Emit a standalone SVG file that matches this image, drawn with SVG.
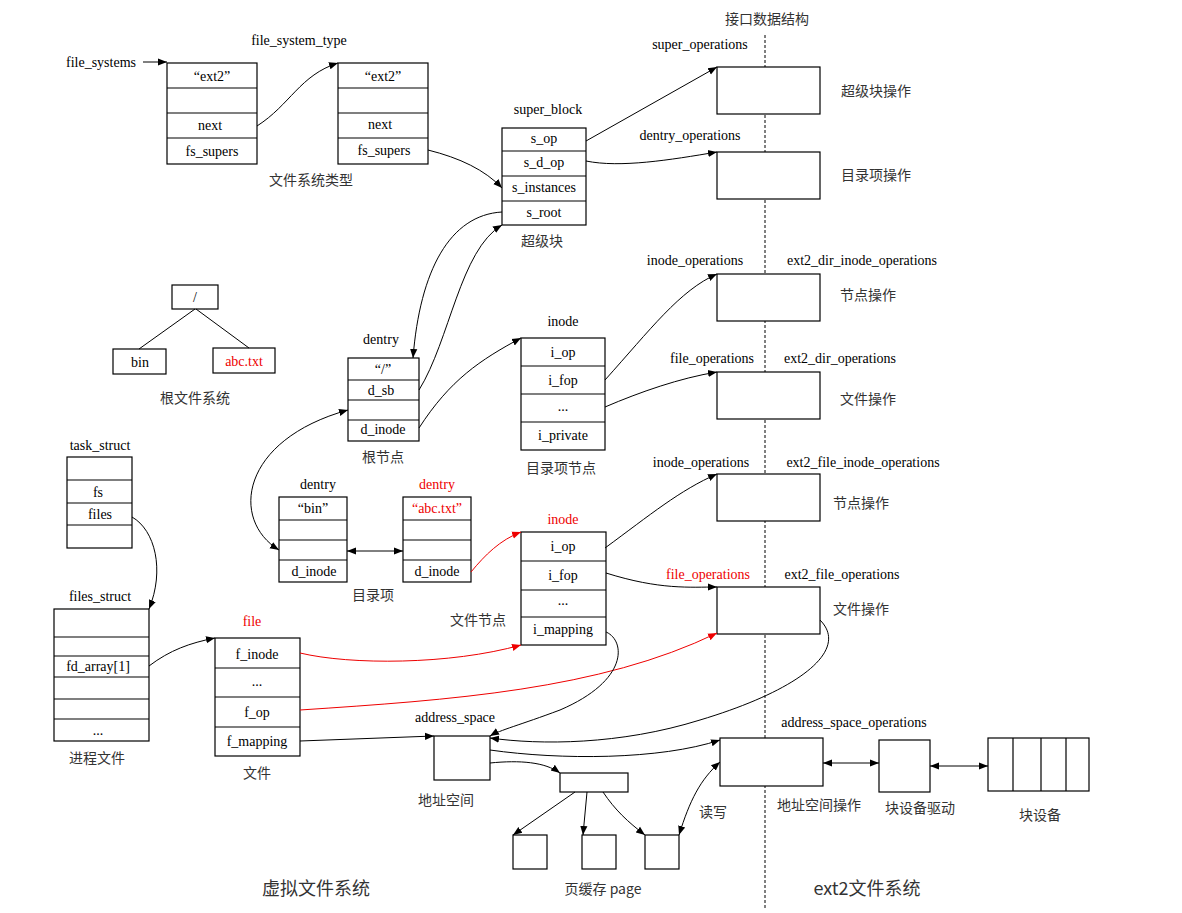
<svg xmlns="http://www.w3.org/2000/svg" width="1182" height="913" viewBox="0 0 1182 913">
<style>
text{font-family:"Liberation Serif","Noto Sans CJK SC",serif;font-size:14px;fill:#000;text-anchor:middle}
.z{font-family:"Noto Sans CJK SC","Liberation Serif",sans-serif;font-size:14px;fill:#333}
.big{font-size:18px}
.r{fill:#e00}
rect{fill:#fff;stroke:#000;stroke-width:1.2}
.row{stroke:#000;stroke-width:1.2}
.c path,.c line{fill:none;stroke:#000;stroke-width:1}
.c .red{stroke:#e00}
</style>
<defs>
<marker id="a" viewBox="0 0 10 10" refX="10" refY="5" markerWidth="9" markerHeight="9" orient="auto-start-reverse" markerUnits="userSpaceOnUse"><path d="M0,1 L10,5 L0,9z" fill="#000"/></marker>
<marker id="ar" viewBox="0 0 10 10" refX="10" refY="5" markerWidth="9" markerHeight="9" orient="auto" markerUnits="userSpaceOnUse"><path d="M0,1 L10,5 L0,9z" fill="#e00"/></marker>
</defs>
<rect x="0" y="0" width="1182" height="913" style="stroke:none"/>
<line x1="765" y1="35" x2="765" y2="908" stroke="#000" stroke-dasharray="3,2"/>
<text x="767" y="24" class="z">接口数据结构</text>
<text x="316" y="895" class="z big">虚拟文件系统</text>
<text x="867" y="895" class="z big">ext2文件系统</text>

<g id="fst1"><rect x="167" y="63" width="90" height="101"/><path class="row" d="M167,88H257M167,113H257M167,138H257"/>
<text x="212" y="81">“ext2”</text><text x="210" y="130">next</text><text x="212" y="156">fs_supers</text></g>
<text x="101" y="67">file_systems</text>
<g id="fst2"><rect x="338" y="63" width="90" height="101"/><path class="row" d="M338,88H428M338,113H428M338,138H428"/>
<text x="383" y="81">“ext2”</text><text x="380" y="129">next</text><text x="384" y="155">fs_supers</text></g>
<text x="299" y="45">file_system_type</text>
<text x="311" y="185" class="z">文件系统类型</text>

<g id="sb"><rect x="502" y="128" width="84" height="97"/><path class="row" d="M502,151H586M502,176H586M502,201H586"/>
<text x="544" y="143">s_op</text><text x="544" y="167">s_d_op</text><text x="544" y="192">s_instances</text><text x="544" y="217">s_root</text>
<text x="548" y="114">super_block</text><text x="542" y="246" class="z">超级块</text></g>

<g id="ops1"><rect x="717" y="67" width="103" height="47"/><text x="700" y="49">super_operations</text><text x="876" y="96" class="z">超级块操作</text></g>
<g id="ops2"><rect x="717" y="152" width="103" height="47"/><text x="690" y="140">dentry_operations</text><text x="876" y="180" class="z">目录项操作</text></g>
<g id="ops3"><rect x="717" y="274" width="103" height="47"/><text x="695" y="265">inode_operations</text><text x="862" y="265">ext2_dir_inode_operations</text><text x="868" y="300" class="z">节点操作</text></g>
<g id="ops4"><rect x="717" y="372" width="103" height="47"/><text x="712" y="363">file_operations</text><text x="840" y="363">ext2_dir_operations</text><text x="868" y="404" class="z">文件操作</text></g>
<g id="ops5"><rect x="717" y="474" width="103" height="47"/><text x="701" y="467">inode_operations</text><text x="863" y="467">ext2_file_inode_operations</text><text x="861" y="508" class="z">节点操作</text></g>
<g id="ops6"><rect x="717" y="587" width="103" height="47"/><text x="708" y="579" class="r">file_operations</text><text x="842" y="579">ext2_file_operations</text><text x="861" y="614" class="z">文件操作</text></g>
<g id="aso"><rect x="720" y="738" width="103" height="48"/><text x="854" y="727">address_space_operations</text><text x="819" y="810" class="z">地址空间操作</text></g>
<g id="drv"><rect x="879" y="740" width="51" height="52"/><text x="920" y="813" class="z">块设备驱动</text></g>
<g id="blk"><rect x="988" y="738" width="101" height="53"/><path class="row" d="M1013,738V791M1041,738V791M1066,738V791"/><text x="1040" y="820" class="z">块设备</text></g>

<g id="tree"><rect x="172" y="285" width="46" height="24"/><text x="195" y="302">/</text>
<rect x="113" y="349" width="53" height="25"/><text x="140" y="367">bin</text>
<rect x="213" y="348" width="62" height="25"/><text x="244" y="366" class="r">abc.txt</text>
<path d="M195,309L139,349M196,309L249,348" stroke="#000" fill="none"/>
<text x="195" y="403" class="z">根文件系统</text></g>

<g id="droot"><rect x="348" y="358" width="71" height="83"/><path class="row" d="M348,380H419M348,400H419M348,420H419"/>
<text x="383" y="374">“/”</text><text x="381" y="395">d_sb</text><text x="383" y="434">d_inode</text>
<text x="381" y="344">dentry</text><text x="383" y="462" class="z">根节点</text></g>

<g id="idir"><rect x="521" y="338" width="84" height="112"/><path class="row" d="M521,366H605M521,394H605M521,422H605"/>
<text x="563" y="357">i_op</text><text x="563" y="385">i_fop</text><text x="563" y="411">...</text><text x="563" y="440">i_private</text>
<text x="563" y="326">inode</text><text x="561" y="473" class="z">目录项节点</text></g>

<g id="dbin"><rect x="279" y="497" width="68" height="85"/><path class="row" d="M279,520H347M279,540H347M279,560H347"/>
<text x="313" y="513">“bin”</text><text x="314" y="576">d_inode</text><text x="318" y="489">dentry</text></g>
<g id="dabc"><rect x="403" y="497" width="68" height="85"/><path class="row" d="M403,520H471M403,540H471M403,560H471"/>
<text x="437" y="513" class="r">“abc.txt”</text><text x="437" y="576">d_inode</text><text x="437" y="489" class="r">dentry</text></g>
<text x="373" y="600" class="z">目录项</text>

<g id="ifile"><rect x="521" y="532" width="85" height="113"/><path class="row" d="M521,561H606M521,590H606M521,617H606"/>
<text x="563" y="551">i_op</text><text x="563" y="580">i_fop</text><text x="563" y="605">...</text><text x="563" y="634">i_mapping</text>
<text x="563" y="524" class="r">inode</text><text x="478" y="625" class="z">文件节点</text></g>

<g id="task"><rect x="67" y="457" width="65" height="91"/><path class="row" d="M67,480H132M67,503H132M67,525H132"/>
<text x="98" y="497">fs</text><text x="100" y="519">files</text><text x="100" y="450">task_struct</text></g>

<g id="files"><rect x="54" y="609" width="95" height="132"/><path class="row" d="M54,637H149M54,656H149M54,677H149M54,699H149M54,719H149"/>
<text x="98" y="671">fd_array[1]</text><text x="98" y="735">...</text><text x="100" y="601">files_struct</text><text x="97" y="763" class="z">进程文件</text></g>

<g id="file"><rect x="215" y="638" width="85" height="118"/><path class="row" d="M215,668H300M215,697H300M215,727H300"/>
<text x="257" y="659">f_inode</text><text x="257" y="686">...</text><text x="257" y="717">f_op</text><text x="257" y="746">f_mapping</text>
<text x="252" y="626" class="r">file</text><text x="257" y="778" class="z">文件</text></g>

<g id="as"><rect x="434" y="736" width="56" height="44"/><text x="455" y="722">address_space</text><text x="446" y="805" class="z">地址空间</text></g>
<g id="pc"><rect x="560" y="773" width="68" height="19"/></g>
<g id="p1"><rect x="513" y="835" width="34" height="34"/></g>
<g id="p2"><rect x="582" y="835" width="34" height="34"/></g>
<g id="p3"><rect x="645" y="835" width="34" height="34"/></g>
<text x="603" y="894" class="z">页缓存  page</text>
<text x="713" y="817" class="z">读写</text>

<g class="c">
<path d="M143,62H167" marker-end="url(#a)"/>
<path d="M257,126C290,105 300,75 338,63" marker-end="url(#a)"/>
<path d="M428,150C460,158 485,170 502,188" marker-end="url(#a)"/>
<path d="M586,141L717,67" marker-end="url(#a)"/>
<path d="M586,161C620,168 670,160 717,152" marker-end="url(#a)"/>
<path d="M502,212C450,215 420,270 413,358" marker-end="url(#a)"/>
<path d="M419,390C450,340 460,250 502,225" marker-end="url(#a)"/>
<path d="M419,428C450,380 480,360 521,338" marker-end="url(#a)"/>
<path d="M605,380C650,330 680,290 717,274" marker-end="url(#a)"/>
<path d="M605,407C640,392 680,378 717,372" marker-end="url(#a)"/>
<path d="M605,548C650,515 680,490 717,474" marker-end="url(#a)"/>
<path d="M606,573C660,590 690,587 717,587" marker-end="url(#a)"/>
<path d="M279,550C230,520 240,440 348,410" marker-start="url(#a)" marker-end="url(#a)"/>
<path d="M347,551H403" marker-start="url(#a)" marker-end="url(#a)"/>
<path class="red" d="M471,572C485,555 500,540 521,532" marker-end="url(#ar)"/>
<path d="M132,517C155,530 165,570 149,609" marker-end="url(#a)"/>
<path d="M149,666C170,650 190,643 215,638" marker-end="url(#a)"/>
<path class="red" d="M300,653C350,665 450,665 521,645" marker-end="url(#ar)"/>
<path class="red" d="M300,710C450,700 600,690 717,633" marker-end="url(#ar)"/>
<path d="M300,741L434,736" marker-end="url(#a)"/>
<path d="M606,632C625,640 630,680 560,710C520,725 500,730 490,736" marker-end="url(#a)"/>
<path d="M820,620C850,650 800,690 700,720C620,745 540,745 490,738" marker-end="url(#a)"/>
<path d="M490,750C560,760 660,760 720,740" marker-end="url(#a)"/>
<path d="M490,763C520,760 545,762 560,773" marker-end="url(#a)"/>
<path d="M575,792L513,835" marker-end="url(#a)"/>
<path d="M587,792L583,835" marker-end="url(#a)"/>
<path d="M603,792C615,810 628,822 645,835" marker-end="url(#a)"/>
<path d="M679,835C690,800 700,780 720,762" marker-start="url(#a)" marker-end="url(#a)"/>
<path d="M823,763H879" marker-start="url(#a)" marker-end="url(#a)"/>
<path d="M930,766H988" marker-start="url(#a)" marker-end="url(#a)"/>
</g>
</svg>
